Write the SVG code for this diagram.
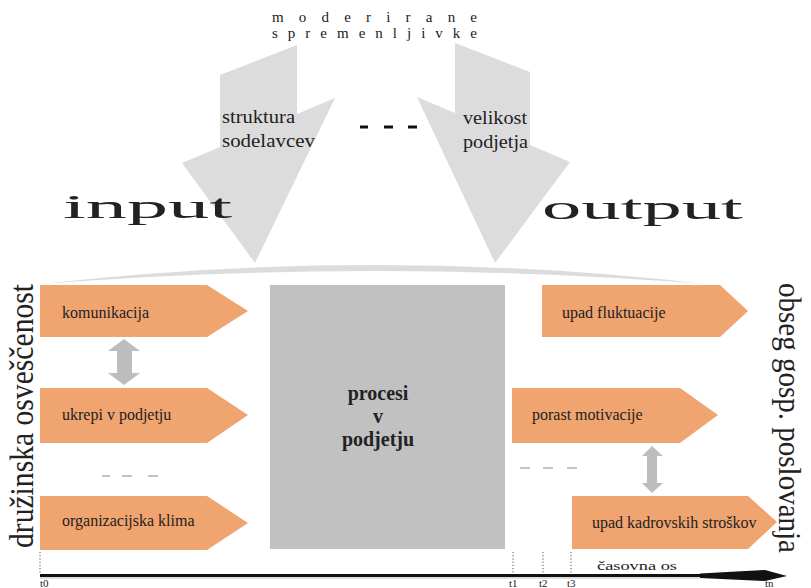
<svg xmlns="http://www.w3.org/2000/svg" width="811" height="588" viewBox="0 0 811 588">
<style>
text{font-family:'Liberation Serif','DejaVu Serif',serif;fill:#222}
.box{fill:#f0a46f}
.lbl{font-size:16px}
.big{fill:#dcdcdc}
.dbl{fill:#bdbdbd}
.dash{stroke:#c4c4c4;stroke-width:2}
.tick{stroke:#555;stroke-width:1;stroke-dasharray:1.2 2}
.tl{font-size:11px}
</style>
<rect width="811" height="588" fill="#fff"/>

<g id="title">
<text x="272" y="22" font-size="15" textLength="205" lengthAdjust="spacing">moderirane</text>
<text x="272" y="38" font-size="15" textLength="205" lengthAdjust="spacing">spremenljivke</text>
</g>

<g id="arrow-left">
<polygon class="big" points="220,75 297,45 297,114 335,98 255,263 182,163 220,147"/>
<text x="222" y="123" font-size="19" textLength="73" lengthAdjust="spacingAndGlyphs">struktura</text>
<text x="222" y="147" font-size="19" textLength="93" lengthAdjust="spacingAndGlyphs">sodelavcev</text>
</g>

<g id="arrow-right">
<polygon class="big" points="455,43 530,72 530,145 570,162 495,263 417,97 455,113"/>
<text x="463" y="124" font-size="19" textLength="64" lengthAdjust="spacingAndGlyphs">velikost</text>
<text x="463" y="148" font-size="19" textLength="65" lengthAdjust="spacingAndGlyphs">podjetja</text>
</g>

<g id="mid-dots">
<path d="M360,127 H368 M384,127 H393 M408,127 H417" stroke="#111" stroke-width="3"/>
</g>

<g id="input-label">
<text x="63" y="218" font-size="34" textLength="169" lengthAdjust="spacingAndGlyphs">input</text>
</g>
<g id="output-label">
<text x="542" y="219" font-size="34" textLength="201" lengthAdjust="spacingAndGlyphs">output</text>
</g>

<g id="band">
<path class="big" d="M40,284 Q375,246 705,284 Q375,258 40,284 Z"/>
</g>

<g id="left-axis-label">
<text x="33" y="548" font-size="33" textLength="264" lengthAdjust="spacingAndGlyphs" transform="rotate(-90 33 548)">družinska osveščenost</text>
</g>
<g id="right-axis-label">
<text x="779" y="283" font-size="32" textLength="270" lengthAdjust="spacingAndGlyphs" transform="rotate(90 779 283)">obseg gosp. poslovanja</text>
</g>

<g id="in-komunikacija">
<polygon class="box" points="40,285 207,285 248,311 207,337 40,337"/>
<text class="lbl" x="62" y="318">komunikacija</text>
</g>
<g id="in-ukrepi">
<polygon class="box" points="40,388 207,388 248,415 207,443 40,443"/>
<text class="lbl" x="62" y="420">ukrepi v podjetju</text>
</g>
<g id="in-klima">
<polygon class="box" points="40,496 207,496 248,523 207,550 40,550"/>
<text class="lbl" x="62" y="526">organizacijska klima</text>
</g>

<g id="procesi">
<rect x="270" y="285" width="235" height="264" fill="#c1c1c1"/>
<text x="378" y="400" font-size="20" font-weight="bold" text-anchor="middle">procesi</text>
<text x="378" y="423" font-size="20" font-weight="bold" text-anchor="middle">v</text>
<text x="378" y="446" font-size="20" font-weight="bold" text-anchor="middle">podjetju</text>
</g>

<g id="out-fluktuacija">
<polygon class="box" points="542,285 720,285 748,311 720,337 542,337"/>
<text class="lbl" x="562" y="318">upad fluktuacije</text>
</g>
<g id="out-motivacija">
<polygon class="box" points="512,388 680,388 718,415 680,443 512,443"/>
<text class="lbl" x="532" y="420">porast motivacije</text>
</g>
<g id="out-stroski">
<polygon class="box" points="572,496 748,496 777,522 748,549 572,549"/>
<text class="lbl" x="592" y="528">upad kadrovskih stroškov</text>
</g>

<g id="connectors">
<polygon class="dbl" points="124,339 140,351 132,351 132,373 140,373 124,385 108,373 117,373 117,351 108,351"/>
<polygon class="dbl" points="652,446 663,456 657,456 657,483 663,483 652,493 642,483 647,483 647,456 642,456"/>
<path class="dash" d="M102,476 H110 M122,476 H132 M148,476 H158"/>
<path class="dash" d="M520,468 H530 M543,468 H553 M567,468 H577"/>
</g>

<g id="timeline">
<path class="tick" d="M40,552 V573 M513,552 V573 M543,552 V573 M571,552 V573"/>
<line x1="40" y1="578" x2="700" y2="578" stroke="#bbb" stroke-width="1"/>
<line x1="40" y1="575.5" x2="702" y2="575.5" stroke="#111" stroke-width="3"/>
<polygon points="700,573.5 765,570 787,576 765,581 700,578" fill="#111"/>
<text x="597" y="570" font-size="13" textLength="80" lengthAdjust="spacingAndGlyphs">časovna os</text>
<text class="tl" x="40" y="587">t0</text>
<text class="tl" x="509" y="587">t1</text>
<text class="tl" x="539" y="587">t2</text>
<text class="tl" x="567" y="587">t3</text>
<text class="tl" x="765" y="587">tn</text>
</g>
</svg>
